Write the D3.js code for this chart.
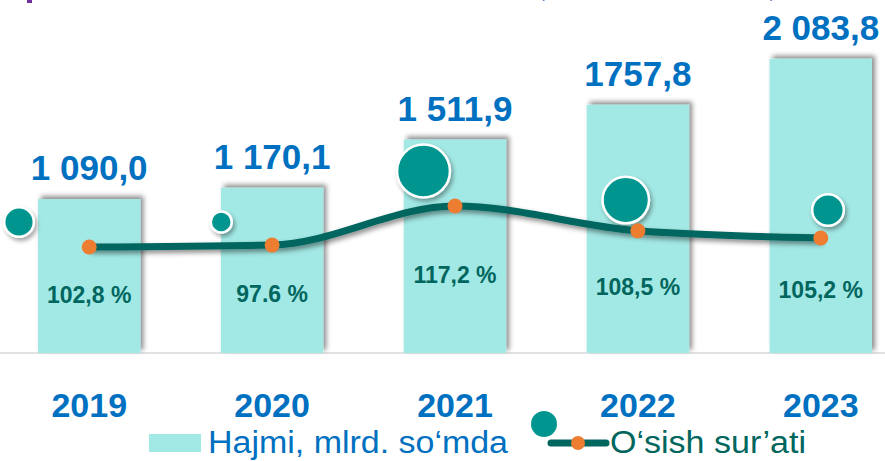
<!DOCTYPE html>
<html>
<head>
<meta charset="utf-8">
<script src="https://cdn.jsdelivr.net/npm/d3@7"></script>
<style>
  body { margin: 0; background: #fff; }
  svg { display: block; font-family: "Liberation Sans", Arial, sans-serif; }
</style>
</head>
<body>
<svg id="chart" width="885" height="461"></svg>
<script>
// values
const years = ['2019', '2020', '2021', '2022', '2023'];
const volume = [1090.0, 1170.1, 1511.9, 1757.8, 2083.8];
const volumeLabels = ['1 090,0', '1 170,1', '1 511,9', '1757,8', '2 083,8'];
const growthLabels = ['102,8 %', '97.6 %', '117,2 %', '108,5 %', '105,2 %'];
// where the line points actually sit (2020 point is drawn near 103.5 in the source)
const growthLine = [102.8, 103.5, 117.2, 108.5, 106.0];
// bubble series: height on the growth axis, and bubble size
const bubbleY = [111.6, 111.6, 129.5, 119.3, 115.8];
const bubbleSize = [22, 11, 70, 54, 25];

const blue = '#0070c0';
const teal = '#00665e';
const bubbleTeal = '#00968f';
const barFill = '#a2e8e4';
const orange = '#ed7d31';

const svg = d3.select('#chart');

const defs = svg.append('defs');
function shadow(id, dx, dy, sd, op) {
  defs.append('filter')
    .attr('id', id)
    .attr('x', '-30%').attr('y', '-30%')
    .attr('width', '160%').attr('height', '160%')
    .append('feDropShadow')
    .attr('dx', dx).attr('dy', dy)
    .attr('stdDeviation', sd)
    .attr('flood-color', '#000')
    .attr('flood-opacity', op);
}
shadow('barShadow', 3, -3, 2.5, 0.45);
shadow('lineShadow', 2, 3, 2.5, 0.45);
shadow('bubbleShadow', 2, 3, 2, 0.35);

// scales
const xScale = d3.scaleBand()
  .domain(years)
  .range([38, 872])
  .paddingInner(0.44)
  .paddingOuter(0);

const yScale = d3.scaleLinear()
  .domain([0, 2500])
  .range([353, 0]);

const gScale = d3.scaleLinear()
  .domain([80, 130])
  .range([312, 169.6]);

const bubbleX = d3.scalePoint()
  .domain(years)
  .range([19, 828]);

const rScale = d3.scaleSqrt()
  .domain([0, 100])
  .range([0, 31.6]);

const cx = d => xScale(d) + xScale.bandwidth() / 2;

// cut-off title fragments at the very top
svg.append('rect')
  .attr('x', 27).attr('y', -10)
  .attr('width', 5).attr('height', 13)
  .attr('fill', '#7030a0');
svg.append('text')
  .attr('x', 540).attr('y', -2)
  .attr('fill', '#4a4ab0')
  .style('font-size', '14px')
  .text('(');
svg.append('text')
  .attr('x', 770).attr('y', -2)
  .attr('fill', '#4a4ab0')
  .style('font-size', '14px')
  .text(')');

// baseline
svg.append('line')
  .attr('x1', 0).attr('x2', 885)
  .attr('y1', yScale(0)).attr('y2', yScale(0))
  .attr('stroke', '#d9d9d9')
  .attr('stroke-width', 1.5);

// bars
svg.append('g')
  .selectAll('rect')
  .data(years)
  .join('rect')
  .attr('x', d => xScale(d))
  .attr('y', (d, i) => yScale(volume[i]))
  .attr('width', xScale.bandwidth())
  .attr('height', (d, i) => yScale(0) - yScale(volume[i]))
  .attr('fill', barFill)
  .attr('filter', 'url(#barShadow)');

// value labels
svg.append('g')
  .selectAll('text')
  .data(years)
  .join('text')
  .attr('x', d => cx(d))
  .attr('y', (d, i) => yScale(volume[i]) - 19)
  .attr('text-anchor', 'middle')
  .attr('fill', blue)
  .style('font-size', '35px')
  .style('font-weight', 'bold')
  .text((d, i) => volumeLabels[i]);

// bubbles
svg.append('g')
  .selectAll('circle')
  .data(years)
  .join('circle')
  .attr('cx', d => bubbleX(d))
  .attr('cy', (d, i) => gScale(bubbleY[i]))
  .attr('r', (d, i) => rScale(bubbleSize[i]))
  .attr('fill', bubbleTeal)
  .attr('stroke', '#fff')
  .attr('stroke-width', 2.5)
  .attr('filter', 'url(#bubbleShadow)');

// growth line
const line = d3.line()
  .x(d => cx(d))
  .y((d, i) => gScale(growthLine[i]))
  .curve(d3.curveMonotoneX);

svg.append('path')
  .datum(years)
  .attr('d', line)
  .attr('fill', 'none')
  .attr('stroke', teal)
  .attr('stroke-width', 7)
  .attr('filter', 'url(#lineShadow)');

svg.append('g')
  .selectAll('circle')
  .data(years)
  .join('circle')
  .attr('cx', d => cx(d))
  .attr('cy', (d, i) => gScale(growthLine[i]))
  .attr('r', 7.5)
  .attr('fill', orange);

// growth labels, half way between the point and the baseline
svg.append('g')
  .selectAll('text')
  .data(years)
  .join('text')
  .attr('x', d => cx(d))
  .attr('y', (d, i) => (gScale(growthLine[i]) + yScale(0)) / 2 + 3)
  .attr('text-anchor', 'middle')
  .attr('fill', teal)
  .style('font-size', '23px')
  .style('font-weight', 'bold')
  .text((d, i) => growthLabels[i]);

// x axis (year labels only)
const xAxis = d3.axisBottom(xScale).tickSize(0).tickPadding(0);
const xAxisG = svg.append('g')
  .attr('transform', 'translate(0,393)')
  .call(xAxis);
xAxisG.select('path.domain').remove();
xAxisG.selectAll('text')
  .attr('dy', null)
  .attr('y', 24)
  .attr('fill', blue)
  .style('font-size', '34px')
  .style('font-weight', 'bold')
  .style('font-family', '"Liberation Sans", Arial, sans-serif');

// legend
const legend = svg.append('g');
legend.append('rect')
  .attr('x', 149).attr('y', 434)
  .attr('width', 52).attr('height', 18)
  .attr('fill', barFill);
legend.append('text')
  .attr('x', 208).attr('y', 453)
  .attr('fill', blue)
  .attr('textLength', 300)
  .attr('lengthAdjust', 'spacingAndGlyphs')
  .style('font-size', '31px')
  .text('Hajmi, mlrd. so‘mda');

legend.append('circle')
  .attr('cx', 544).attr('cy', 424)
  .attr('r', 13)
  .attr('fill', bubbleTeal);
legend.append('line')
  .attr('x1', 551).attr('x2', 606)
  .attr('y1', 443).attr('y2', 443)
  .attr('stroke', teal)
  .attr('stroke-width', 7)
  .attr('stroke-linecap', 'round');
legend.append('circle')
  .attr('cx', 578).attr('cy', 443)
  .attr('r', 7)
  .attr('fill', orange);
legend.append('text')
  .attr('x', 610).attr('y', 453)
  .attr('fill', teal)
  .attr('textLength', 196)
  .attr('lengthAdjust', 'spacingAndGlyphs')
  .style('font-size', '31px')
  .text('O‘sish sur’ati');
</script>
</body>
</html>
